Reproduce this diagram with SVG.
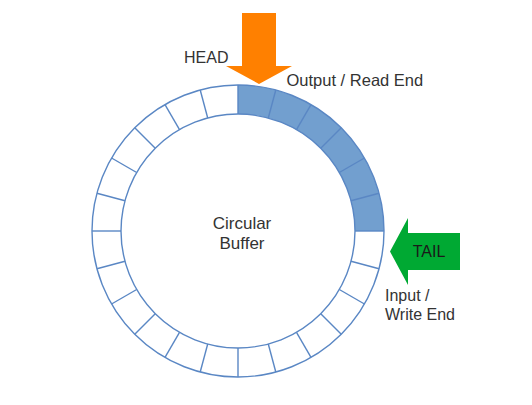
<svg xmlns="http://www.w3.org/2000/svg" xmlns:xlink="http://www.w3.org/1999/xlink" width="532" height="405" viewBox="0 0 532 405">
<style>
  .ring { fill: none; stroke: #5a87c4; stroke-width: 1.4; }
  .spoke { stroke: #5a87c4; stroke-width: 1.4; }
  .lbl { font-family: "Liberation Sans", Arial, sans-serif; font-size: 16px; fill: #333333; }
</style>
<defs>
  <line id="spoke" class="spoke" x1="238" y1="114" x2="238" y2="85"/>
</defs>
<rect width="532" height="405" fill="#ffffff"/>
<g id="buffer">
  <path d="M238,85 A146,146 0 0 1 384,231 L355,231 A117,117 0 0 0 238,114 Z" fill="#729fcf"/>
  <circle class="ring" cx="238" cy="231" r="146"/>
  <circle class="ring" cx="238" cy="231" r="117"/>
  <use xlink:href="#spoke"/>
  <use xlink:href="#spoke" transform="rotate(15 238 231)"/>
  <use xlink:href="#spoke" transform="rotate(30 238 231)"/>
  <use xlink:href="#spoke" transform="rotate(45 238 231)"/>
  <use xlink:href="#spoke" transform="rotate(60 238 231)"/>
  <use xlink:href="#spoke" transform="rotate(75 238 231)"/>
  <use xlink:href="#spoke" transform="rotate(90 238 231)"/>
  <use xlink:href="#spoke" transform="rotate(105 238 231)"/>
  <use xlink:href="#spoke" transform="rotate(120 238 231)"/>
  <use xlink:href="#spoke" transform="rotate(135 238 231)"/>
  <use xlink:href="#spoke" transform="rotate(150 238 231)"/>
  <use xlink:href="#spoke" transform="rotate(165 238 231)"/>
  <use xlink:href="#spoke" transform="rotate(180 238 231)"/>
  <use xlink:href="#spoke" transform="rotate(195 238 231)"/>
  <use xlink:href="#spoke" transform="rotate(210 238 231)"/>
  <use xlink:href="#spoke" transform="rotate(225 238 231)"/>
  <use xlink:href="#spoke" transform="rotate(240 238 231)"/>
  <use xlink:href="#spoke" transform="rotate(255 238 231)"/>
  <use xlink:href="#spoke" transform="rotate(270 238 231)"/>
  <use xlink:href="#spoke" transform="rotate(285 238 231)"/>
  <use xlink:href="#spoke" transform="rotate(300 238 231)"/>
  <use xlink:href="#spoke" transform="rotate(315 238 231)"/>
  <use xlink:href="#spoke" transform="rotate(330 238 231)"/>
  <use xlink:href="#spoke" transform="rotate(345 238 231)"/>
  <text class="lbl" font-size="17" style="font-size:17px" x="242" y="229" text-anchor="middle">Circular</text>
  <text class="lbl" style="font-size:17px" x="242" y="249" text-anchor="middle">Buffer</text>
</g>
<g id="head">
  <path d="M242,13 H276 V66 H292 L259,84 L226,66 H242 Z" fill="#ff8000"/>
  <text class="lbl" x="184" y="63">HEAD</text>
  <text class="lbl" style="font-size:16.5px" x="286.5" y="86">Output / Read End</text>
</g>
<g id="tail">
  <path d="M390,251.5 L408,218 V233 H460 V270 H408 V285 Z" fill="#00a933"/>
  <text class="lbl" style="fill:#1a1a1a" x="429" y="257" text-anchor="middle">TAIL</text>
  <text class="lbl" x="385" y="301">Input /</text>
  <text class="lbl" x="385" y="320">Write End</text>
</g>
</svg>
